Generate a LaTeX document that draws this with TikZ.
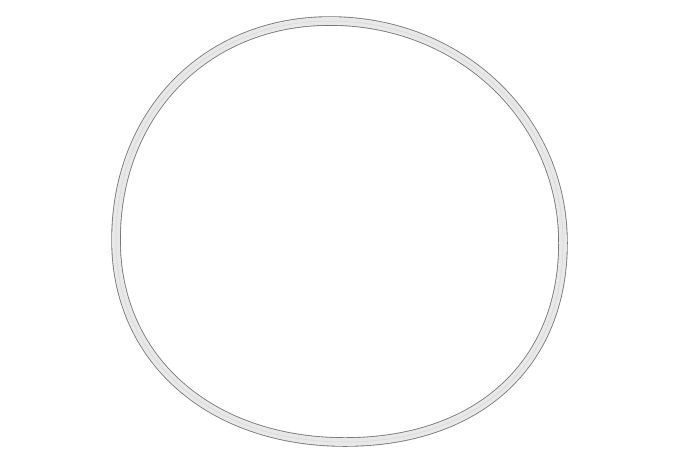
\documentclass[tikz,border=0pt]{standalone}
\begin{document}
\begin{tikzpicture}[x=1pt,y=-1pt]
\definecolor{ringedge}{RGB}{120,120,120}
\definecolor{ringfill}{RGB}{232,232,232}
\tikzset{ringpath/.style={line join=round}}
\useasboundingbox[fill=white] (0,0) rectangle (700,466);
\coordinate (T) at (330,21);
\coordinate (R) at (563,243);
\coordinate (B) at (345,442);
\coordinate (L) at (116,240);
\def\ring{(T) .. controls (460.5,21) and (563,118.7) .. (R) .. controls (563,364.4) and (478,442) .. (B) .. controls (209.9,442) and (116,359.2) .. (L) .. controls (116,113) and (205.9,21) .. (T) -- cycle}
\draw[ringpath, line width=9.5pt, ringedge] \ring;
\draw[ringpath, line width=7.8pt, ringfill] \ring;
\draw[ringpath, line width=0.5pt, ringfill!85!black, opacity=0.5] \ring;
\end{tikzpicture}
\end{document}
